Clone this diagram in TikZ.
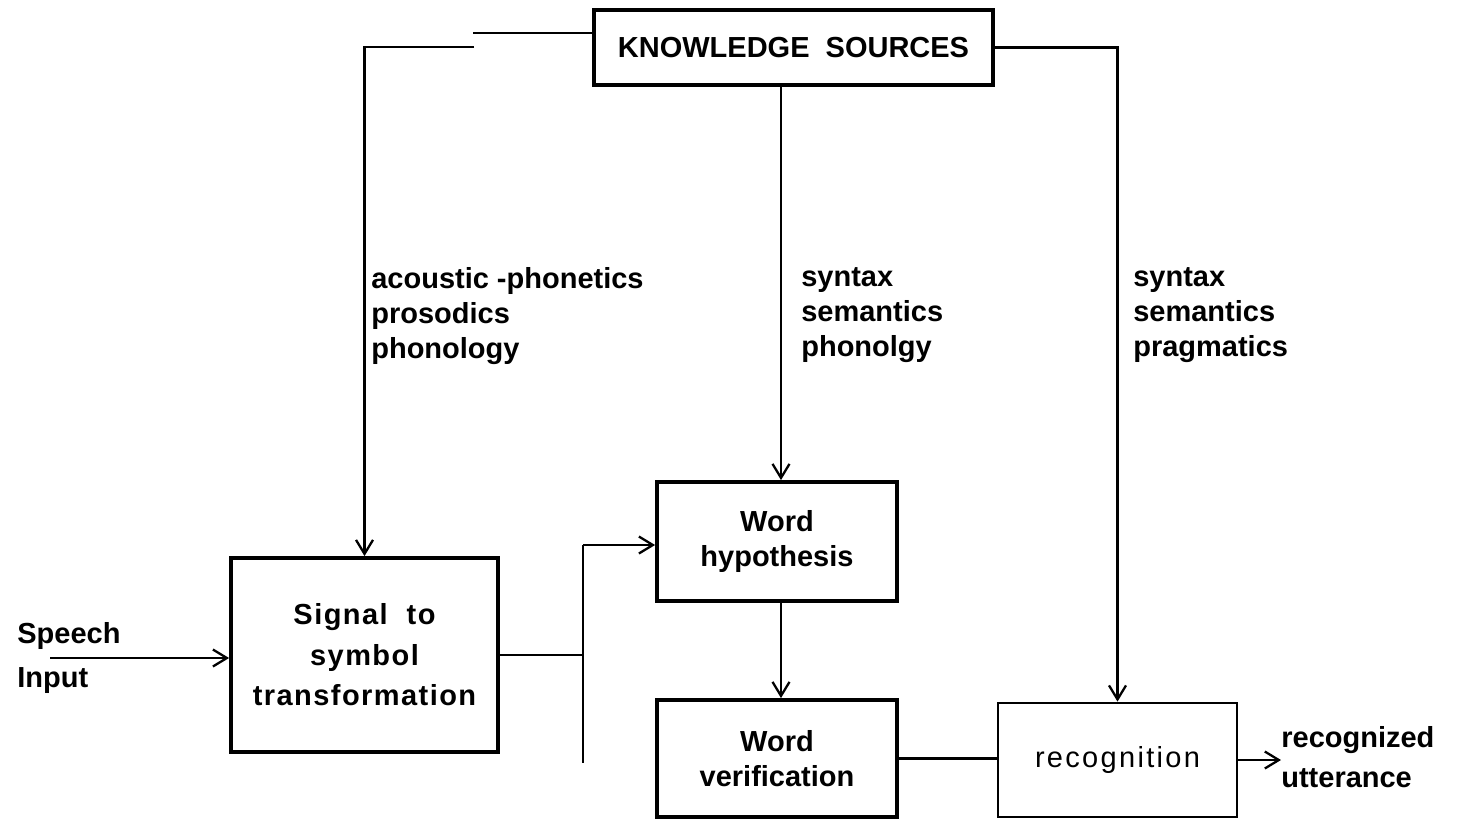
\documentclass[tikz,border=0pt]{standalone}
\usepackage{fontspec}
\setmainfont{Liberation Sans}
\usetikzlibrary{arrows.meta,positioning}

\begin{document}
\begin{tikzpicture}[
    x=0.02cm, y=-0.02cm,
    font=\fontsize{16.5}{20}\selectfont\bfseries,
    box/.style={draw, line width=2.2pt, align=center, inner sep=0pt},
    arrow/.style={-{Straight Barb[length=2.8mm, width=3.4mm, line width=1.3pt]}, line width=1.3pt},
    link/.style={line width=1.3pt},
    lbl/.style={align=left, inner sep=0pt, anchor=north west}
]
\useasboundingbox (0,0) rectangle (1457,819);

% boxes
\node[box, minimum width=5.34cm, minimum height=3.88cm, font=\fontsize{16.5}{23}\selectfont\bfseries\addfontfeature{LetterSpace=5}] (sig) at (364.5,655) {Signal\ \ to\\symbol\\transformation};
\node[box, minimum width=7.98cm, minimum height=1.5cm] (ks) at (793.5,47.5) {KNOWLEDGE\ \ SOURCES};
\node[box, minimum width=4.8cm, minimum height=2.38cm] (wh) at (777,541.5) {Word\\hypothesis};
\node[box, minimum width=4.8cm, minimum height=2.34cm] (wv) at (777,758.5) {Word\\verification};
\node[box, line width=1.6pt, minimum width=4.78cm, minimum height=2.28cm, font=\fontsize{16.5}{20}\selectfont\mdseries\addfontfeature{LetterSpace=8}] (rec) at (1117.5,760) {recognition};

% labels
\node[lbl] (kacou) at (371,267) {acoustic -phonetics\\prosodics\\phonology};
\node[lbl] (kmid) at (801,267) {syntax\\semantics\\phonolgy};
\node[lbl] (kright) at (1133,267) {syntax\\semantics\\pragmatics};
\node[align=left, inner sep=0pt, anchor=west, font=\fontsize{16.5}{25}\selectfont\bfseries] (speech) at (17,658) {Speech\\Input};
\node[align=left, inner sep=0pt, anchor=west, font=\fontsize{16.5}{23}\selectfont\bfseries] (out) at (1281,757) {recognized\\utterance};

% connectors
\coordinate (jogA) at (473,33);
\coordinate (jogB) at (474,47);
\draw[link] (jogA) -- (ks.west |- jogA);
\draw[arrow] (jogB) -| (sig.north);
\draw[arrow] ([xshift=0.08cm]wh.north |- ks.south) -- ([xshift=0.08cm]wh.north);
\draw[arrow] (ks.east) -| (rec.north);

\coordinate (tapTop) at (583,545);
\coordinate (tapBot) at (583,763);
\draw[link] (sig.east) -- (sig.east -| tapTop);
\draw[link] (tapTop) -- (tapBot);
\draw[arrow] (tapTop) -- (tapTop -| wh.west);

\draw[arrow] ([xshift=0.08cm]wh.south) -- ([xshift=0.08cm]wv.north);
\draw[link] (wv.east) -- (wv.east -| rec.west);
\draw[arrow] (rec.east) -- (rec.east -| out.west);

\coordinate (src) at (50,658);
\draw[arrow] (src) -- (src -| sig.west);
\end{tikzpicture}
\end{document}
